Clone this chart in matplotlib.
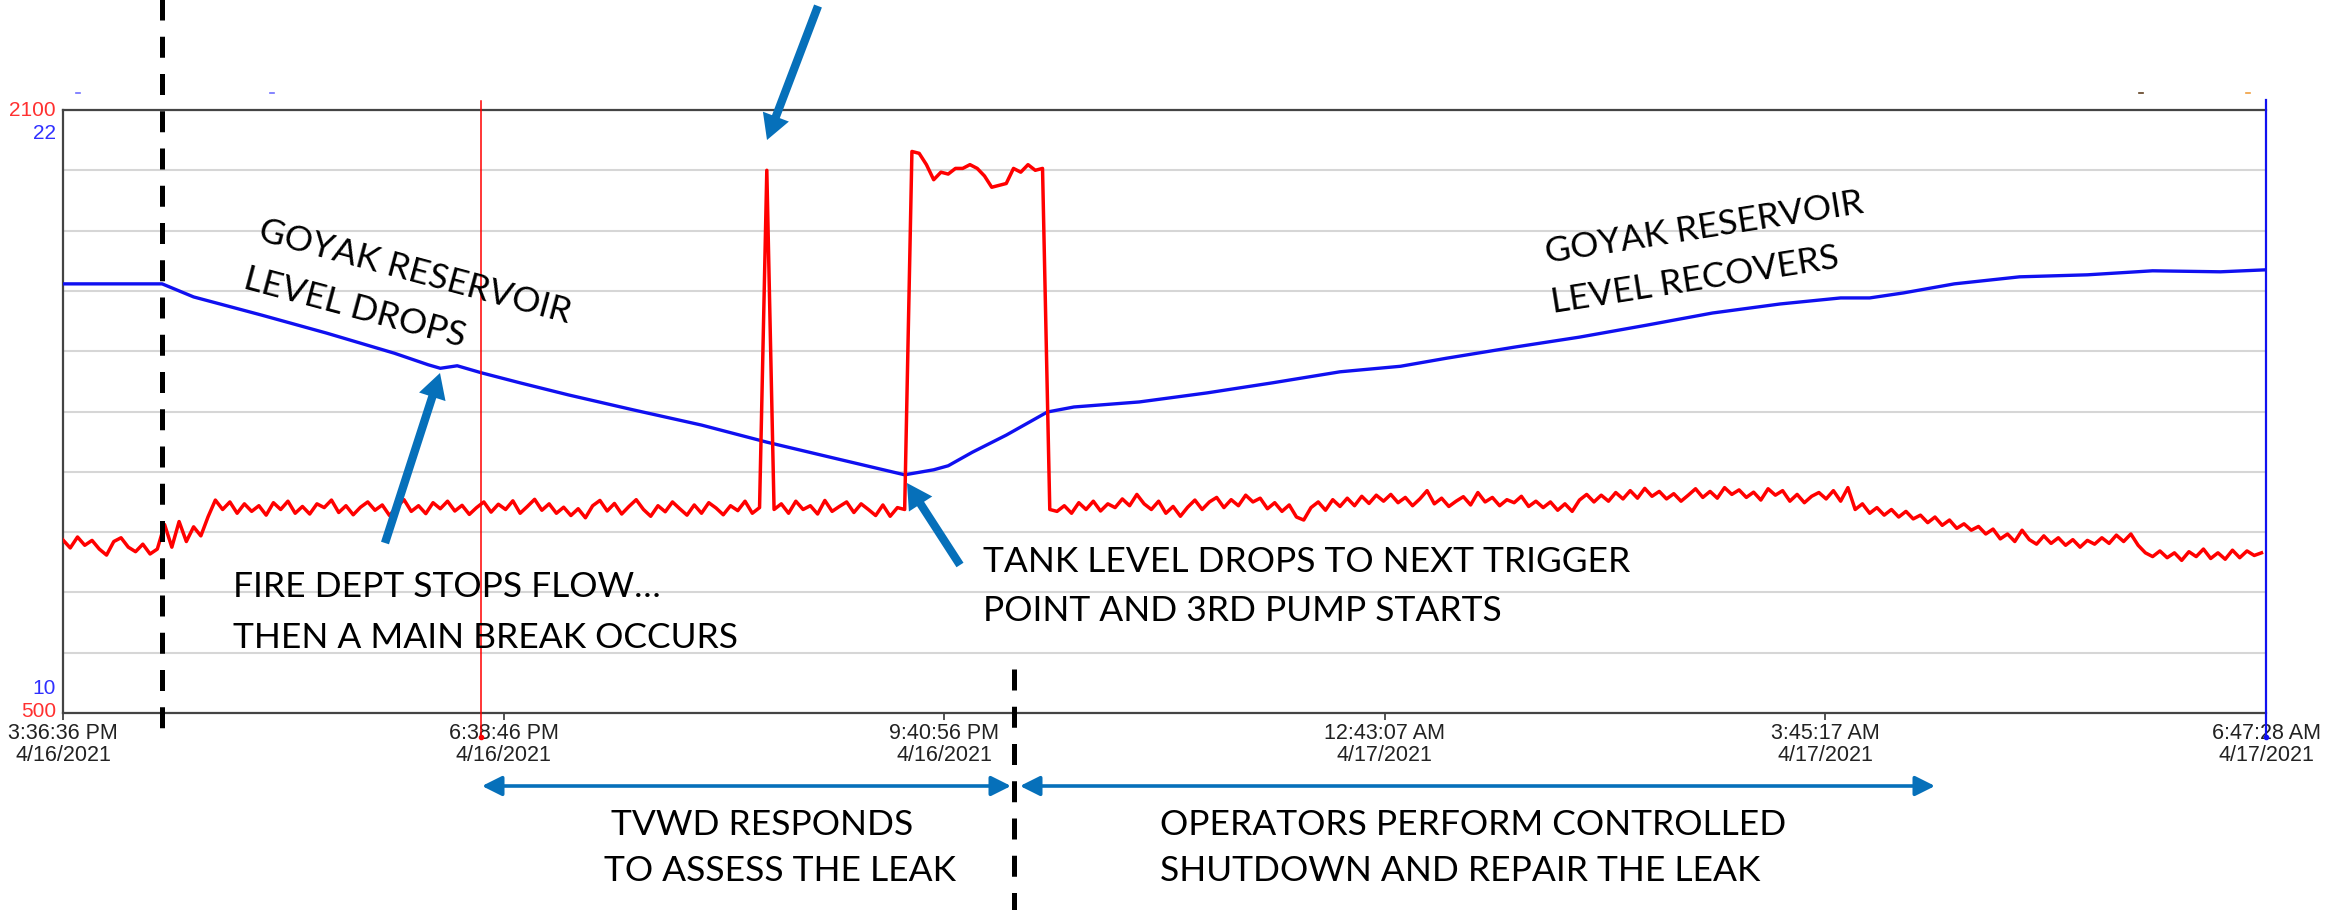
import numpy as np
import pandas as pd
import matplotlib
matplotlib.use("Agg")
import matplotlib.pyplot as plt
from matplotlib.lines import Line2D
from matplotlib.patches import FancyArrowPatch, ArrowStyle

W, H = 2338, 910

# ---------------- data ----------------
start_time = "2021-04-16 15:36:36"
end_time = "2021-04-17 06:47:28"

tick_times = ["2021-04-16 15:36:36", "2021-04-16 18:38:46", "2021-04-16 21:40:56",
              "2021-04-17 00:43:07", "2021-04-17 03:45:17", "2021-04-17 06:47:28"]
tick_labels = ["3:36:36 PM\n4/16/2021", "6:38:46 PM\n4/16/2021", "9:40:56 PM\n4/16/2021",
               "12:43:07 AM\n4/17/2021", "3:45:17 AM\n4/17/2021", "6:47:28 AM\n4/17/2021"]

red_range = [500, 2100]
blue_range = [10, 22]

# red trace, one reading every 3 minutes from start
red_step_min = 3
red_flow = [
    959, 938, 967, 945, 958, 935, 919, 955, 965, 940, 928, 948, 922, 935,
    1000, 940, 1008, 955, 994, 970, 1021, 1065,
    1040, 1060, 1030, 1055, 1035, 1050, 1025, 1058, 1040, 1062,
    1030, 1048, 1028, 1055, 1045, 1065, 1032, 1050, 1026, 1046,
    1060, 1038, 1052, 1024, 1047, 1066, 1035, 1050, 1029, 1058,
    1042, 1062, 1036, 1051, 1027, 1045, 1060, 1033, 1054, 1040,
    1063, 1030, 1048, 1067, 1038, 1055, 1030, 1046, 1024, 1042,
    1018, 1050, 1064, 1036, 1056, 1028, 1048, 1066, 1040, 1022,
    1050, 1034, 1060, 1042, 1025, 1052, 1030, 1058, 1044, 1026,
    1050, 1037, 1062, 1030, 1045,
    1940, 1040,
    1055, 1030, 1062, 1040, 1050, 1028, 1064, 1035, 1048, 1060,
    1032, 1055, 1040, 1024, 1052, 1022, 1045,
    1040,
    1990, 1985, 1955, 1915, 1935, 1930, 1945, 1945, 1955, 1945,
    1925, 1895, 1900, 1905, 1945, 1935, 1955, 1940, 1945,
    1040,
    1035, 1050, 1030, 1058, 1040, 1062, 1036, 1055, 1045, 1068,
    1050, 1080, 1055, 1040, 1062, 1030, 1048, 1022, 1046, 1065,
    1040, 1060, 1072, 1045, 1066, 1050, 1078, 1060, 1070, 1042,
    1058, 1035, 1052, 1020, 1012, 1045, 1060, 1038, 1066, 1048,
    1070, 1050, 1075, 1056, 1078, 1062, 1080, 1058, 1072, 1050,
    1068, 1090, 1055, 1070, 1048, 1062, 1074, 1052, 1085, 1060,
    1072, 1050, 1066, 1058, 1075, 1048, 1062, 1045, 1060, 1038,
    1055, 1035, 1065, 1080, 1060, 1078, 1062, 1085, 1068, 1090,
    1070, 1096, 1075, 1088, 1068, 1082, 1062, 1078, 1095, 1072,
    1088, 1070, 1098, 1080, 1092, 1072, 1086, 1065, 1095, 1078,
    1090, 1062, 1080, 1058, 1075, 1085, 1068, 1090, 1062, 1098,
    1040, 1055, 1030, 1045, 1025, 1040, 1020, 1035, 1015, 1025,
    1005, 1020, 998, 1012, 990, 1002, 985, 995, 975, 988,
    962, 975, 955, 985, 960, 948, 970, 950, 965, 945,
    960, 940, 958, 948, 965, 950, 972, 955, 975, 945,
    925, 915, 930, 912, 925, 905, 928, 915, 935, 910,
    925, 908, 932, 912, 930, 918, 925,
]

# reservoir level (blue), minutes from start
blue_minutes = [0, 41, 54, 82, 109, 137, 151, 156, 163, 173, 189, 209, 236, 264, 291,
                319, 348, 360, 366, 376, 390, 407, 418, 445, 473, 500, 528, 553, 572,
                600, 627, 655, 682, 710, 735, 747, 761, 782, 809, 837, 864, 892, 911]
blue_level = [18.54, 18.54, 18.28, 17.92, 17.56, 17.16, 16.93, 16.86, 16.91, 16.77, 16.57,
              16.33, 16.03, 15.73, 15.39, 15.07, 14.74, 14.84, 14.92, 15.19, 15.53, 15.99,
              16.09, 16.19, 16.37, 16.57, 16.79, 16.90, 17.06, 17.28, 17.48, 17.72, 17.96,
              18.14, 18.26, 18.26, 18.36, 18.54, 18.68, 18.72, 18.80, 18.78, 18.82]

cursor_time = "2021-04-16 18:29:36"
event_times = ["2021-04-16 16:17:42", "2021-04-16 22:09:54"]

ARROW_BLUE = "#0670BA"


def minutes(s):
    return (pd.Timestamp(s) - pd.Timestamp(start_time)).total_seconds() / 60.0


def P(x, y):
    # pixel (from top-left) -> figure fraction
    return (x / W, 1 - y / H)


plt.rcParams["font.family"] = ["Lato", "DejaVu Sans"]

fig = plt.figure(figsize=(W / 100, H / 100), dpi=100)
ax = fig.add_axes([63 / W, 1 - 713 / H, (2266 - 63) / W, (713 - 110) / H])
ax2 = ax.twinx()

span = minutes(end_time)
red_t = np.arange(len(red_flow)) * red_step_min

# blue level on the bottom axes, red on top
ax.plot(blue_minutes, blue_level, color="#1010F0", lw=2.4, zorder=3)
ax2.plot(red_t, red_flow, color="#FF0000", lw=2.5, zorder=3)

ax.set_xlim(0, span)
ax.set_ylim(*blue_range)
ax2.set_ylim(*red_range)

ax.set_yticks(np.linspace(blue_range[0], blue_range[1], 11))
ax.set_yticklabels([])
ax.tick_params(axis="y", length=0)
ax.grid(axis="y", color="#d6d6d6", lw=1.5)
ax.set_axisbelow(True)
ax2.set_yticks([])

ax.set_xticks([minutes(t) for t in tick_times])
ax.set_xticklabels(tick_labels, family=["Liberation Sans Narrow", "Liberation Sans"],
                   fontsize=15.5, color="#222222", linespacing=1.05)
ax.tick_params(axis="x", length=5, width=1.2, color="#333333", pad=2.5)

for side in ["left", "top", "bottom"]:
    ax.spines[side].set_color("#444444")
    ax.spines[side].set_linewidth(1.6)
ax.spines["right"].set_visible(False)
for s in ax2.spines.values():
    s.set_visible(False)

# y end labels (red and blue scales)
lab_font = dict(family=["Liberation Sans", "DejaVu Sans"], fontsize=15, ha="right", va="center")
ax2.annotate(str(red_range[1]), xy=(0, red_range[1]), xycoords=ax2.get_yaxis_transform(),
             xytext=(-5, 0), textcoords="offset points", color="#FF3030", **lab_font)
ax2.annotate(str(red_range[0]), xy=(0, red_range[0]), xycoords=ax2.get_yaxis_transform(),
             xytext=(-5, 1), textcoords="offset points", color="#FF3030", **lab_font)
ax.annotate(str(blue_range[1]), xy=(0, blue_range[1]), xycoords=ax.get_yaxis_transform(),
            xytext=(-5, -17), textcoords="offset points", color="#3030FF", **lab_font)
ax.annotate(str(blue_range[0]), xy=(0, blue_range[0]), xycoords=ax.get_yaxis_transform(),
            xytext=(-5, 18), textcoords="offset points", color="#3030FF", **lab_font)

# cursor lines
xt = ax.get_xaxis_transform()
ct = minutes(cursor_time)
ax.plot([ct, ct], [-0.04, 1.015], transform=xt, color="#FF0000", lw=1.1, clip_on=False, zorder=4)
ax.plot([ct], [-0.04], transform=xt, marker="o", ms=3, color="#FF0000", clip_on=False)
ax.plot([span, span], [-0.04, 1.017], transform=xt, color="#1010F0", lw=1.6, clip_on=False, zorder=4)
ax.plot([span], [-0.04], transform=xt, marker="o", ms=3, color="#1010F0", clip_on=False)

# tiny marks above the plot
for x, c in [(78, "#7070ff"), (272, "#7070ff"), (2141, "#604020"), (2248, "#f0a040")]:
    fig.add_artist(Line2D([(x - 2) / W, (x + 2) / W], [1 - 93 / H] * 2, color=c, lw=1.2))

# black dashed event lines (figure coordinates)
fig.canvas.draw()
to_px = lambda t: ax.transData.transform((t, 0))[0]
e1 = to_px(minutes(event_times[0]))
e2 = to_px(minutes(event_times[1]))
fig.add_artist(Line2D([e1 / W, e1 / W], [1 + 10 / H, 1 - 741 / H], color="black", lw=3.6,
                      linestyle=(0, (4.2, 3.25))))
fig.add_artist(Line2D([e2 / W, e2 / W], [1 - 669 / H, -0.02], color="black", lw=3.6,
                      linestyle=(0, (4.2, 3.25))))

# double headed span arrows
for xa, xb in [(482, 1011), (1020, 1935)]:
    fig.add_artist(FancyArrowPatch(P(xa, 786), P(xb, 786), arrowstyle="<|-|>,head_length=0.6,head_width=0.3",
                                   mutation_scale=20, lw=2.6, color=ARROW_BLUE, shrinkA=0, shrinkB=0,
                                   transform=fig.transFigure))

# thick pointer arrows
fat = ArrowStyle.Simple(head_length=18, head_width=20, tail_width=6)
for tail, tip in [((818, 6), (767, 140)), ((385, 543), (440, 373)), ((960, 565), (907, 483))]:
    fig.add_artist(FancyArrowPatch(P(*tail), P(*tip), arrowstyle=fat, mutation_scale=1,
                                   color=ARROW_BLUE, lw=0, shrinkA=0, shrinkB=0,
                                   transform=fig.transFigure))

# annotation texts
fs = 25.5
fig.text(*P(257, 240), "GOYAK RESERVOIR", rotation=-15, rotation_mode="anchor",
         ha="left", va="baseline", fontsize=fs)
fig.text(*P(242, 288), "LEVEL DROPS", rotation=-15, rotation_mode="anchor",
         ha="left", va="baseline", fontsize=fs)
fig.text(*P(1547, 263), "GOYAK RESERVOIR", rotation=9, rotation_mode="anchor",
         ha="left", va="baseline", fontsize=fs)
fig.text(*P(1553, 313), "LEVEL RECOVERS", rotation=9, rotation_mode="anchor",
         ha="left", va="baseline", fontsize=fs)

for x, y, s in [(233, 597, "FIRE DEPT STOPS FLOW…"),
                (233, 648, "THEN A MAIN BREAK OCCURS"),
                (983, 572, "TANK LEVEL DROPS TO NEXT TRIGGER"),
                (983, 621, "POINT AND 3RD PUMP STARTS"),
                (611, 835, "TVWD RESPONDS"),
                (604, 881, "TO ASSESS THE LEAK"),
                (1160, 835, "OPERATORS PERFORM CONTROLLED"),
                (1160, 881, "SHUTDOWN AND REPAIR THE LEAK")]:
    fig.text(*P(x, y), s, ha="left", va="baseline", fontsize=fs)

fig.savefig("out.png", dpi=100)
